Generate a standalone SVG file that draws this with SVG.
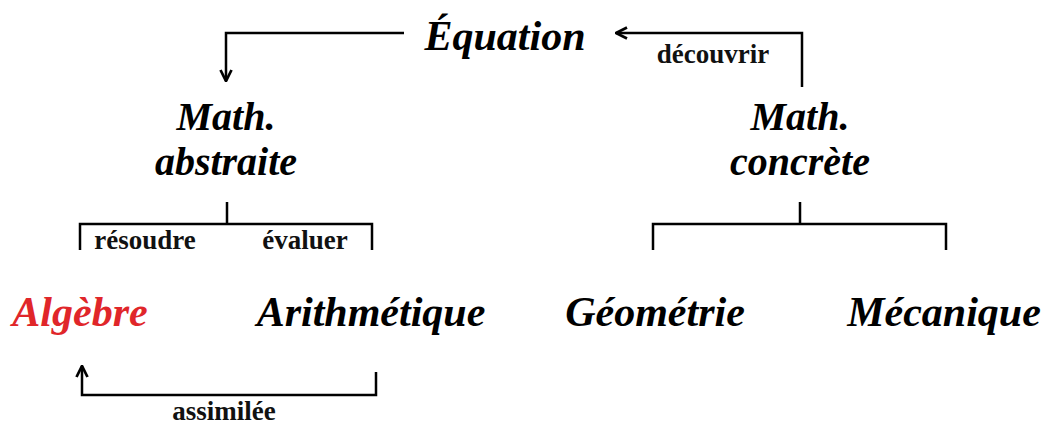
<svg xmlns="http://www.w3.org/2000/svg" width="1050" height="428" viewBox="0 0 1050 428">
<style>
.t{font-family:"Liberation Serif","Times New Roman",serif;font-weight:bold;font-style:italic;font-size:42px;fill:#000;text-anchor:middle}
.m{font-size:40px}
.l{font-family:"Liberation Serif","Times New Roman",serif;font-weight:bold;font-size:27px;fill:#111;text-anchor:middle}
.c{fill:none;stroke:#000;stroke-width:2.5}
</style>
<defs>
<marker id="ah" viewBox="0 0 10 10" refX="9" refY="5" markerWidth="5.5" markerHeight="5.5" orient="auto" markerUnits="strokeWidth">
<path d="M1,1 L9,5 L1,9" fill="none" stroke="#000" stroke-width="2"/>
</marker>
</defs>
<rect width="1050" height="428" fill="#fff"/>
<g id="connectors">
<path class="c" d="M404,33 H226 V81" marker-end="url(#ah)"/>
<path class="c" d="M802,87 V33 H616" marker-end="url(#ah)"/>
<path class="c" d="M227,202 V224 M80,250 V224 H372 V250"/>
<path class="c" d="M800,202 V224 M653,250 V224 H946 V250"/>
<path class="c" d="M376,372 V395 H82 V366" marker-end="url(#ah)"/>
<text class="l" x="713" y="63">découvrir</text>
<text class="l" x="145" y="249">résoudre</text>
<text class="l" x="305" y="249">évaluer</text>
<text class="l" x="224" y="420">assimilée</text>
</g>
<g id="equation"><text class="t" x="505" y="50">Équation</text></g>
<g id="math-abstraite"><text class="t m" x="226" y="130">Math.</text><text class="t m" x="226" y="175">abstraite</text></g>
<g id="math-concrete"><text class="t m" x="800" y="130">Math.</text><text class="t m" x="800" y="175">concrète</text></g>
<g id="algebre"><text class="t" x="80" y="326" style="fill:#e0262a">Algèbre</text></g>
<g id="arithmetique"><text class="t" x="371" y="326">Arithmétique</text></g>
<g id="geometrie"><text class="t" x="655" y="326">Géométrie</text></g>
<g id="mecanique"><text class="t" x="944" y="326">Mécanique</text></g>
</svg>
